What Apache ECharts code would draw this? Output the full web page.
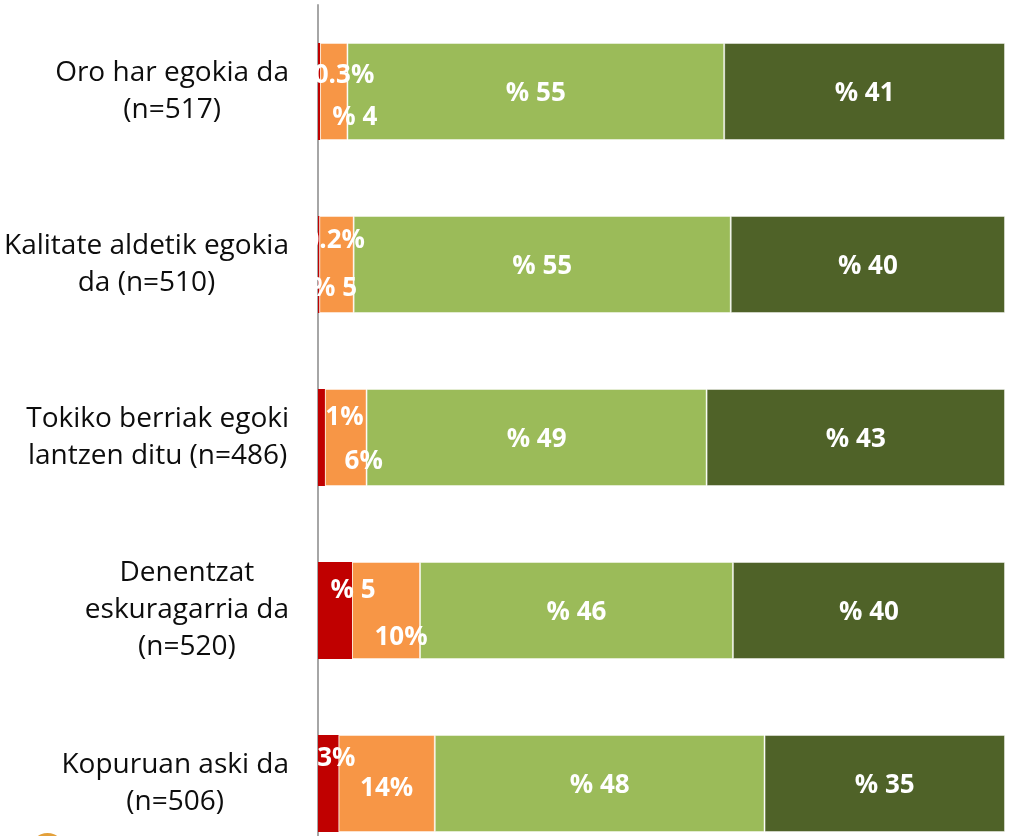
<!DOCTYPE html>
<html>
<head>
<meta charset="utf-8">
<script src="https://cdn.jsdelivr.net/npm/echarts@6/dist/echarts.min.js"></script>
<style>
  html, body { margin: 0; padding: 0; background: #fff; }
  #chart { width: 1009px; height: 836px; }
</style>
</head>
<body>
<div id="chart"></div>
<script>
// Survey items (top to bottom) with sample sizes
const categories = [
  'Oro har egokia da\n(n=517)',
  'Kalitate aldetik egokia\nda (n=510)',
  'Tokiko berriak egoki\nlantzen ditu (n=486)',
  'Denentzat\neskuragarria da\n(n=520)',
  'Kopuruan aski da\n(n=506)'
];

// Answer shares (%) per item, one array per answer level
const valuesVeryBad  = [0.3, 0.2, 1, 5, 3];
const valuesBad      = [4, 5, 6, 10, 14];
const valuesGood     = [55, 55, 49, 46, 48];
const valuesVeryGood = [41, 40, 43, 40, 35];

// How each value label is written: 'pre' -> "% 5", 'post' -> "5%"
const fmtVeryBad  = ['post', 'post', 'post', 'pre', 'post'];
const fmtBad      = ['pre', 'pre', 'post', 'post', 'post'];
const fmtGood     = ['pre', 'pre', 'pre', 'pre', 'pre'];
const fmtVeryGood = ['pre', 'pre', 'pre', 'pre', 'pre'];

// Label nudges (px) for the two narrow segments so the texts do not collide
const nudgeVeryBad = [[25, -16], [16, -24], [23, -20], [18, -20], [8, -25]];
const nudgeBad     = [[21, 26], [-2, 24], [18, 24], [15, 27], [0, 5]];
const NUDGE_DEFAULT = [0, 2];

const COLORS = ['#C00000', '#F79646', '#9BBB59', '#4F6228'];
const BORDERS = [0, 1, 1, 1];
const GRID_LEFT = 318;

const allSeries = [valuesVeryBad, valuesBad, valuesGood, valuesVeryGood];
const allFmt = [fmtVeryBad, fmtBad, fmtGood, fmtVeryGood];
const allNudge = [nudgeVeryBad, nudgeBad, null, null];

// Each row is drawn as a 100% stack of its own answers
const rowTotals = categories.map((_, i) =>
  allSeries.reduce((s, arr) => s + arr[i], 0));

function labelText(v, f) {
  return f === 'pre' ? '% ' + v : v + '%';
}

const series = allSeries.map((vals, si) => ({
  type: 'bar',
  stack: 'total',
  barWidth: 97,
  itemStyle: {
    color: COLORS[si],
    borderColor: 'rgba(255,255,255,0.45)',
    borderWidth: BORDERS[si]
  },
  label: {
    show: true,
    position: 'inside',
    color: '#fff',
    fontFamily: 'Open Sans',
    fontWeight: 'bold',
    fontSize: 26
  },
  data: vals.map((v, i) => ({
    value: v / rowTotals[i] * 100,
    label: {
      formatter: labelText(v, allFmt[si][i]),
      offset: allNudge[si] ? allNudge[si][i] : NUDGE_DEFAULT
    }
  }))
}));

const chart = echarts.init(document.getElementById('chart'), null, { renderer: 'canvas' });
chart.setOption({
  animation: false,
  backgroundColor: '#fff',
  grid: {
    left: GRID_LEFT, right: 4, top: 5, height: 865,
    containLabel: false, outerBoundsMode: 'none'
  },
  xAxis: {
    type: 'value',
    min: 0,
    max: 100,
    show: false
  },
  yAxis: {
    type: 'category',
    inverse: true,
    data: categories,
    axisLine: { show: true, lineStyle: { color: '#A6A6A6', width: 2 } },
    axisTick: { show: false },
    splitLine: { show: false },
    axisLabel: {
      margin: 29,
      align: 'right',
      formatter: v => v.split('\n').map(l => '{c|' + l + '}').join('\n'),
      rich: {
        c: {
          fontFamily: 'Open Sans',
          fontSize: 28,
          color: '#0D0D0D',
          lineHeight: 37,
          align: 'center'
        }
      }
    }
  },
  graphic: [
    // keeps segment labels from spilling left of the plot edge
    { type: 'rect', z: 100, shape: { x: GRID_LEFT - 26, y: 0, width: 24, height: 836 },
      style: { fill: '#fff' } },
    // corner of the publisher badge
    { type: 'circle', z: 100, shape: { cx: 47.5, cy: 850, r: 17 },
      style: { fill: '#E3A03A' } }
  ],
  series: series
});
</script>
</body>
</html>
